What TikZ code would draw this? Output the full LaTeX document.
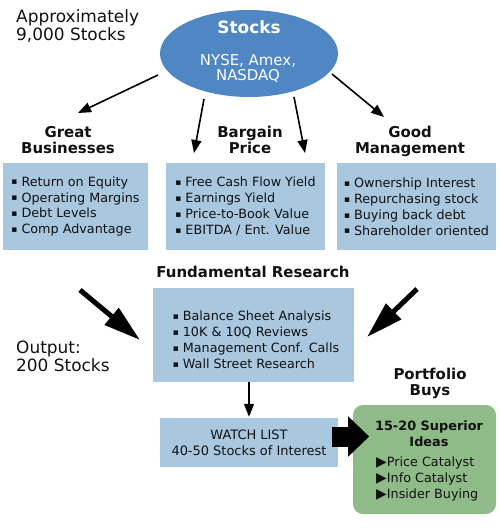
\documentclass[tikz,border=0pt]{standalone}
\usepackage{fontspec}
\setmainfont{DejaVu Sans}
\usetikzlibrary{arrows.meta,shapes.geometric}
\definecolor{ellblue}{HTML}{4F87C5}
\definecolor{boxblue}{HTML}{A9C7DF}
\definecolor{ideagreen}{HTML}{8FBB88}
\definecolor{ink}{HTML}{111111}
\newcommand\mybul{\raisebox{1.2bp}{\fontsize{9}{9}\selectfont ▪}\hspace{4bp}}
\newcommand\mytri{{\fontsize{14}{14}\selectfont ▶}}
\begin{document}
\begin{tikzpicture}[x=1bp,y=-1bp,
  txt/.style={text=ink, inner sep=0},
  bigtxt/.style={txt, align=left, font=\fontsize{17}{18}\selectfont},
  head/.style={txt, align=center, font=\bfseries\fontsize{15}{16}\selectfont},
  panel/.style={fill=boxblue, draw=none, inner sep=0, align=left, text=ink, font=\fontsize{12.8}{16}\selectfont},
  plain/.style={txt, align=left, font=\fontsize{12.8}{16}\selectfont},
  thinarrow/.style={-{Triangle[length=13bp,width=10bp]}, line width=1.6bp, draw=black},
  fatarrow/.style={-{Triangle[length=37bp,width=21bp]}, line width=5bp, draw=black},
  blockarrow/.style={-{Triangle[length=21bp,width=39bp]}, line width=20bp, draw=black},
]
\useasboundingbox (0,0) rectangle (500,528);

% top ellipse
\node[ellipse, fill=ellblue, minimum width=178bp, minimum height=87bp, inner sep=0] (stocks) at (249,53.5) {};
\node[inner sep=0, text=white, font=\bfseries\fontsize{17}{18}\selectfont] (stockstitle) at (249,27) {Stocks};
\node[inner sep=0, text=white, align=center, font=\fontsize{15}{15}\selectfont] (exch) at (248,68.5) {NYSE, Amex,\\NASDAQ};

\node[bigtxt, anchor=west] (approx) at (16,26) {Approximately\\9,000 Stocks};

% headings
\node[head] (hgreat) at (68,140) {Great\\Businesses};
\node[head] (hbargain) at (250,140) {Bargain\\Price};
\node[head] (hgood) at (410,141) {Good\\Management};

% criteria boxes
\node[panel, minimum width=145bp, minimum height=87bp] (b1) at (75.5,206.5)
  {\mybul Return on Equity\\\mybul Operating Margins\\\mybul Debt Levels\\\mybul Comp Advantage};
\node[panel, minimum width=159bp, minimum height=87bp] (b2) at (245.5,206.5)
  {\mybul Free Cash Flow Yield\\\mybul Earnings Yield\\\mybul Price-to-Book Value\\\mybul EBITDA / Ent. Value};
\node[panel, minimum width=159bp, minimum height=87bp] (b3) at (416.5,206.5)
  {\mybul Ownership Interest\\\mybul Repurchasing stock\\\mybul Buying back debt\\\mybul Shareholder oriented};

% thin arrows from ellipse
\coordinate (a1s) at (158,75);  \coordinate (a1e) at (78,113);
\coordinate (a2s) at (204,99);  \coordinate (a2e) at (194,153);
\coordinate (a3s) at (294,97);  \coordinate (a3e) at (305,153);
\coordinate (a4s) at (332,74);  \coordinate (a4e) at (384,117);
\draw[thinarrow] (a1s) -- (a1e);
\draw[thinarrow] (a2s) -- (a2e);
\draw[thinarrow] (a3s) -- (a3e);
\draw[thinarrow] (a4s) -- (a4e);

% fundamental research
\node[head] (hfund) at (253,272) {Fundamental Research};
\node[fill=boxblue, inner sep=0, minimum width=201bp, minimum height=94bp] (research) at (253.5,335) {};
\node[plain] (researchtxt) at (256,340)
  {\mybul Balance Sheet Analysis\\\mybul 10K \& 10Q Reviews\\\mybul Management Conf. Calls\\\mybul Wall Street Research};

\coordinate (f1s) at (80,290);  \coordinate (f1e) at (140,340);
\coordinate (f2s) at (417,289); \coordinate (f2e) at (367,337);
\draw[fatarrow] (f1s) -- (f1e);
\draw[fatarrow] (f2s) -- (f2e);

\node[bigtxt, anchor=west] (output) at (16,356.5) {Output:\\200 Stocks};

% watch list
\node[fill=boxblue, inner sep=0, minimum width=178bp, minimum height=49bp, align=center, text=ink,
  font=\fontsize{13}{16}\selectfont] (watch) at (249,442.5) {WATCH LIST\\40-50 Stocks of Interest};
\draw[thinarrow] (research.south -| watch.north) -- ([yshift=1bp]watch.north);

% portfolio buys
\node[head] (hport) at (430,383) {Portfolio\\Buys};
\node[fill=ideagreen, rounded corners=10bp, inner sep=0, minimum width=143bp, minimum height=109bp] (green) at (424.5,459.5) {};
\node[txt, align=center, font=\bfseries\fontsize{12.9}{16}\selectfont] (ideas) at (429,434) {15-20 Superior\\Ideas};
\node[plain, anchor=west] (cats) at (376,479) {\mytri Price Catalyst\\\mytri Info Catalyst\\\mytri Insider Buying};

\draw[blockarrow] ([shift={(-6,-6)}]watch.east) -- ++(37,0);
\end{tikzpicture}
\end{document}
